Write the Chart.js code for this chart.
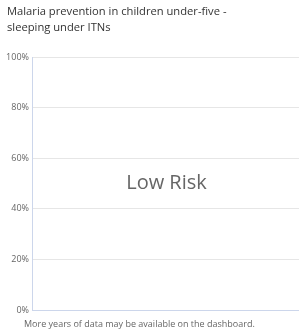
<!DOCTYPE html>
<html>
<head>
<meta charset="utf-8">
<script src="https://cdn.jsdelivr.net/npm/chart.js@4"></script>
<style>
  html, body { margin: 0; padding: 0; background: #fff; }
  #wrap { position: relative; width: 299px; height: 332px; font-family: "Open Sans", sans-serif; }
  #title { position: absolute; left: 7px; top: 3px; font-size: 11.2px; line-height: 15.5px; color: #333; white-space: nowrap; }
  #foot { position: absolute; left: 24px; top: 318px; font-size: 9px; line-height: 12px; color: #666; white-space: nowrap; }
  canvas { position: absolute; left: 0; top: 0; }
</style>
</head>
<body>
<div id="wrap">
  <canvas id="myChart" width="299" height="332"></canvas>
  <div id="title">Malaria prevention in children under-five -<br>sleeping under ITNs</div>
  <div id="foot">More years of data may be available on the dashboard.</div>
</div>
<script>
// Veriler: gösterilecek yıl yok, sadece eksen
const years = [];
const coverage = [];
const yTicks = [0, 20, 40, 60, 80, 100];
const riskLabel = 'Low Risk';

// Grafik alanının ortasına risk yazısı
const riskText = {
  id: 'riskText',
  afterDraw(chart) {
    const a = chart.chartArea;
    const ctx = chart.ctx;
    ctx.save();
    ctx.font = '20px "Open Sans"';
    ctx.fillStyle = '#666';
    ctx.textAlign = 'center';
    ctx.textBaseline = 'middle';
    ctx.fillText(riskLabel, (a.left + a.right) / 2 + 1, (a.top + a.bottom) / 2);
    ctx.restore();
  }
};

const ctx = document.getElementById('myChart').getContext('2d');
const myChart = new Chart(ctx, {
  type: 'line',
  data: {
    labels: years,
    datasets: [{
      label: 'ITN',
      data: coverage,
      borderColor: '#7cb5ec'
    }]
  },
  options: {
    responsive: false,
    animation: false,
    layout: { padding: { top: 57, bottom: 22, left: 0, right: 0 } },
    plugins: {
      legend: { display: false },
      tooltip: { enabled: false }
    },
    scales: {
      x: {
        ticks: { display: false },
        grid: { display: false },
        border: { color: '#ccd6eb' },
        afterFit: axis => { axis.height = 0; }
      },
      y: {
        min: 0,
        max: 100,
        afterBuildTicks: axis => { axis.ticks = yTicks.map(v => ({ value: v })); },
        ticks: {
          callback: v => v + '%',
          color: '#666',
          padding: 3,
          font: { family: 'Open Sans', size: 9 }
        },
        grid: { color: '#e6e6e6', drawTicks: false },
        border: { color: '#ccd6eb' },
        afterFit: axis => { axis.width = 32; }
      }
    }
  },
  plugins: [riskText]
});
</script>
</body>
</html>
